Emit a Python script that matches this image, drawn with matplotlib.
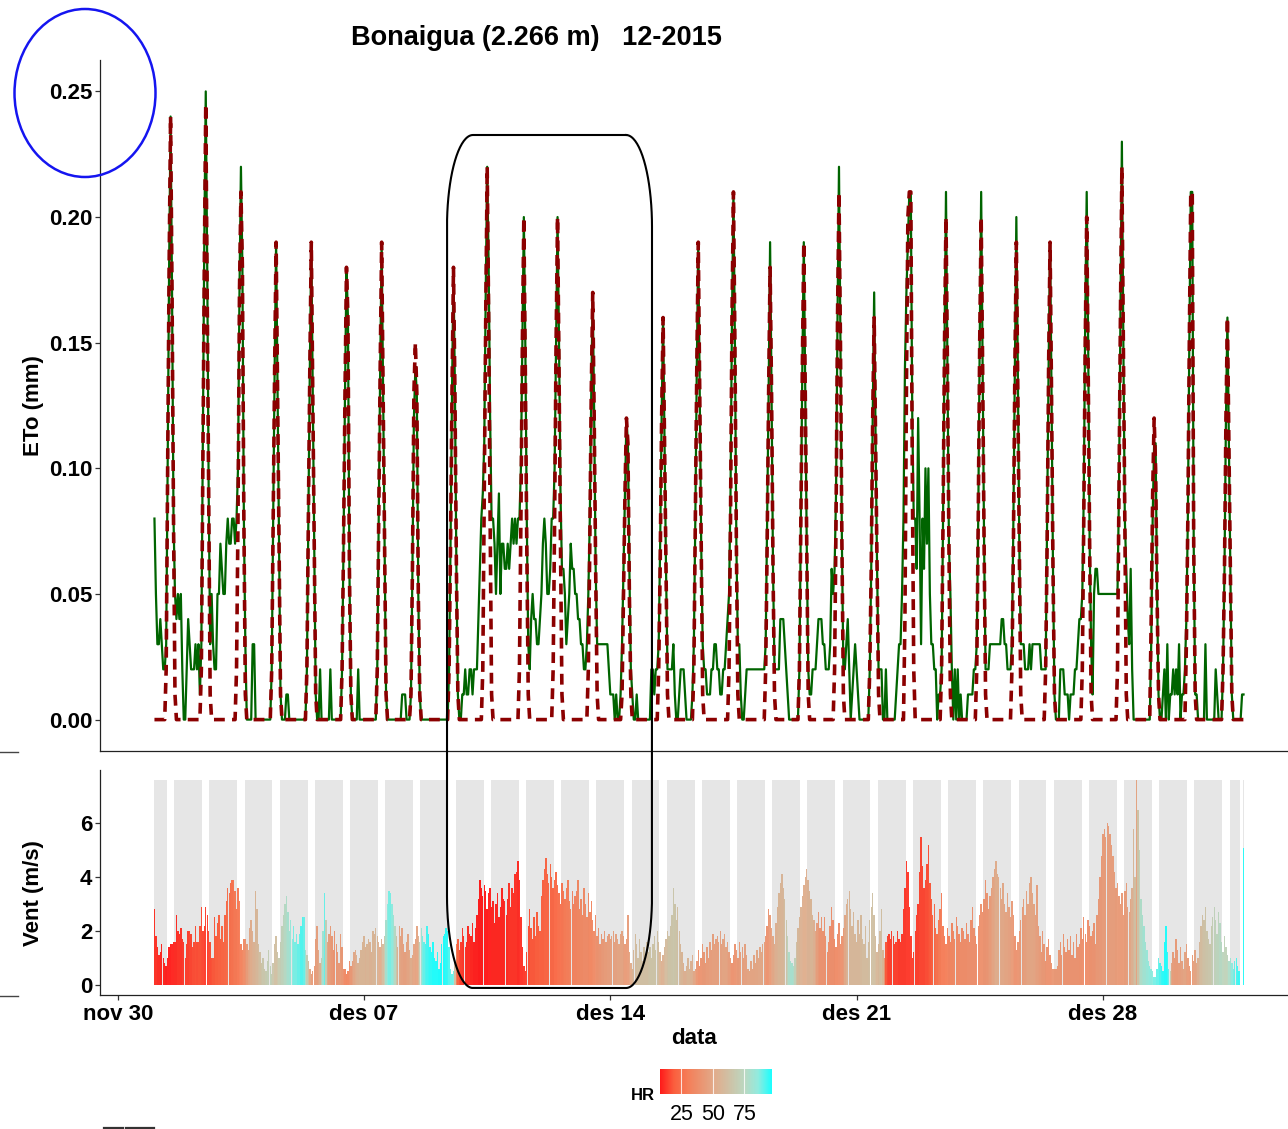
import numpy as np
import pandas as pd
import matplotlib
matplotlib.use('Agg')
import matplotlib.pyplot as plt
from matplotlib.colors import LinearSegmentedColormap, Normalize
from matplotlib.patches import Ellipse

plt.rcParams['font.family'] = ['Liberation Sans', 'DejaVu Sans']

title = 'Bonaigua (2.266 m)   12-2015'
tick_dates = ['2015-11-30', '2015-12-07', '2015-12-14', '2015-12-21', '2015-12-28']
tick_labels = ['nov 30', 'des 07', 'des 14', 'des 21', 'des 28']
hr_ticks = [25, 50, 75]

# one row per day of december, hourly values 01:00 ... 24:00
eto_green = [
    [.08, .05, .03, .03, .04, .03, .02, .02, .03, .10, .18, .24, .17, .08, .05, .04, .05, .04, .05, .02, 0, 0, .02, .04],
    [.03, .02, .02, .02, .03, .02, .03, .01, .03, .11, .19, .25, .18, .09, .03, .05, .03, .02, .02, .05, .05, .07, .06, .05],
    [.05, .07, .08, .07, .07, .08, .08, .07, .08, .10, .17, .22, .18, .08, .03, 0, 0, 0, 0, .03, .03, 0, 0, 0],
    [0, 0, 0, 0, 0, 0, 0, 0, .02, .08, .14, .19, .13, .07, .01, 0, 0, 0, .01, .01, 0, 0, 0, 0],
    [0, 0, 0, 0, 0, 0, 0, 0, .02, .08, .14, .19, .13, .07, .01, 0, 0, .02, 0, 0, 0, 0, 0, 0],
    [.02, 0, 0, 0, 0, 0, 0, 0, .02, .07, .13, .18, .16, .06, .01, 0, 0, 0, 0, .02, 0, 0, 0, 0],
    [0, 0, 0, 0, 0, 0, 0, 0, .02, .08, .14, .19, .13, .07, .01, 0, 0, 0, 0, 0, 0, 0, 0, 0],
    [0, .01, .01, .01, 0, 0, 0, .01, .06, .12, .14, .13, .05, .01, 0, 0, 0, 0, 0, 0, 0, 0, 0, 0],
    [0, 0, 0, 0, 0, 0, 0, 0, 0, .02, .07, .13, .18, .13, .06, .01, 0, 0, .01, .01, .02, .01, .01, .02],
    [.02, .01, .02, .02, .02, .04, .06, .08, .09, .11, .17, .22, .18, .12, .08, .08, .07, .05, .07, .09, .05, .07, .07, .06],
    [.06, .07, .06, .07, .08, .07, .08, .07, .08, .08, .10, .15, .20, .15, .08, .03, .02, .04, .05, .04, .04, .03, .03, .04],
    [.05, .07, .08, .07, .05, .05, .06, .08, .08, .10, .15, .20, .15, .09, .06, .06, .05, .03, .04, .05, .07, .06, .06, .05],
    [.05, .04, .04, .03, .03, .02, .02, .03, .05, .08, .13, .17, .12, .06, .03, .03, .03, .03, .03, .03, .03, .03, .02, .01],
    [.01, .01, 0, .01, 0, 0, .01, .03, .06, .09, .12, .11, .06, .02, .01, 0, 0, .01, 0, 0, 0, 0, 0, 0],
    [0, 0, 0, .02, .02, .01, .02, .02, .03, .07, .12, .16, .11, .06, .02, .02, .02, .02, .03, .01, 0, 0, .01, .02],
    [.02, .02, .01, 0, 0, 0, 0, .01, .03, .08, .14, .19, .13, .07, .03, .02, .02, .01, .01, .01, .02, .02, .03, .03],
    [.02, .02, .01, .01, .02, .02, .03, .04, .05, .09, .16, .21, .15, .07, .03, .03, .01, 0, 0, .01, .02, .02, .02, .02],
    [.02, .02, .02, .02, .02, .02, .02, .02, .02, .03, .08, .13, .19, .13, .06, .02, .02, .02, .02, .04, .04, .04, .03, .02],
    [.01, 0, 0, 0, 0, 0, 0, 0, .02, .08, .14, .19, .13, .07, .02, .01, .01, .02, .02, .02, .03, .04, .04, .04],
    [.03, .03, .02, .02, .02, .03, .06, .05, .06, .09, .16, .22, .15, .07, .02, .02, .03, .04, .02, 0, .01, .02, .03, .02],
    [.01, 0, 0, 0, 0, 0, 0, 0, .02, .06, .12, .17, .11, .06, .02, .02, .02, 0, 0, .02, 0, 0, 0, 0],
    [0, 0, .01, .02, .03, .03, .05, .08, .14, .17, .19, .21, .21, .12, .08, .08, .06, .12, .08, .03, .08, .06, .10, .07],
    [.10, .05, .03, .03, .02, .02, 0, .01, .01, .02, .08, .15, .21, .14, .07, .05, .02, 0, .02, 0, .02, 0, .01, 0],
    [0, 0, 0, .01, .01, .01, .01, .02, .02, .03, .08, .15, .21, .14, .07, .02, .02, .02, .03, .03, .03, .03, .03, .03],
    [.03, .03, .04, .04, .03, .03, .02, .02, .02, .03, .08, .14, .20, .14, .07, .03, .03, .03, .02, .02, .02, .03, .02, .03],
    [.03, .03, .03, .03, .03, .02, .02, .02, .02, .08, .14, .19, .13, .06, .01, 0, 0, 0, .02, .02, .02, .01, .01, .01],
    [0, .01, .01, .01, .02, .02, .03, .04, .04, .05, .09, .16, .21, .15, .07, .03, .01, .05, .06, .06, .05, .05, .05, .05],
    [.05, .05, .05, .05, .05, .05, .05, .05, .05, .05, .09, .16, .23, .15, .08, .06, .04, .03, .06, .02, 0, 0, 0, 0],
    [0, 0, 0, 0, 0, 0, 0, 0, .03, .08, .11, .11, .05, .01, 0, 0, .01, .02, 0, .03, 0, .01, .01, .02],
    [.01, .02, .01, .03, 0, .01, .01, .02, .04, .08, .15, .21, .21, .07, .01, .01, 0, 0, 0, 0, 0, .03, 0, 0],
    [0, 0, 0, 0, .02, .01, 0, 0, 0, .02, .06, .12, .16, .11, .06, .01, 0, 0, 0, 0, 0, 0, .01, .01],
]

eto_red = [
    [0, 0, 0, 0, 0, 0, 0, 0, .02, .10, .18, .24, .17, .08, .01, 0, 0, 0, 0, 0, 0, 0, 0, 0],
    [0, 0, 0, 0, 0, 0, 0, 0, .02, .10, .18, .245, .17, .09, .01, 0, 0, 0, 0, 0, 0, 0, 0, 0],
    [0, 0, 0, 0, 0, 0, 0, 0, .02, .08, .17, .21, .18, .08, .01, 0, 0, 0, 0, 0, 0, 0, 0, 0],
    [0, 0, 0, 0, 0, 0, 0, 0, .02, .08, .14, .19, .13, .07, .01, 0, 0, 0, 0, 0, 0, 0, 0, 0],
    [0, 0, 0, 0, 0, 0, 0, 0, .02, .08, .14, .19, .13, .07, .01, 0, 0, 0, 0, 0, 0, 0, 0, 0],
    [0, 0, 0, 0, 0, 0, 0, 0, .02, .07, .13, .18, .16, .06, .01, 0, 0, 0, 0, 0, 0, 0, 0, 0],
    [0, 0, 0, 0, 0, 0, 0, 0, .02, .08, .14, .19, .13, .07, .01, 0, 0, 0, 0, 0, 0, 0, 0, 0],
    [0, 0, 0, 0, 0, 0, 0, .01, .06, .13, .15, .13, .05, .01, 0, 0, 0, 0, 0, 0, 0, 0, 0, 0],
    [0, 0, 0, 0, 0, 0, 0, 0, 0, .02, .07, .13, .18, .13, .06, .01, 0, 0, 0, 0, 0, 0, 0, 0],
    [0, 0, 0, 0, 0, 0, 0, 0, .02, .09, .16, .22, .16, .08, .01, 0, 0, 0, 0, 0, 0, 0, 0, 0],
    [0, 0, 0, 0, 0, 0, 0, 0, 0, .02, .08, .15, .20, .14, .07, .01, 0, 0, 0, 0, 0, 0, 0, 0],
    [0, 0, 0, 0, 0, 0, 0, 0, .02, .08, .15, .20, .14, .07, .01, 0, 0, 0, 0, 0, 0, 0, 0, 0],
    [0, 0, 0, 0, 0, 0, 0, 0, .02, .07, .13, .17, .12, .06, .01, 0, 0, 0, 0, 0, 0, 0, 0, 0],
    [0, 0, 0, 0, 0, 0, 0, .01, .05, .09, .12, .11, .05, .01, 0, 0, 0, 0, 0, 0, 0, 0, 0, 0],
    [0, 0, 0, 0, 0, 0, 0, 0, .02, .06, .12, .16, .11, .06, .01, 0, 0, 0, 0, 0, 0, 0, 0, 0],
    [0, 0, 0, 0, 0, 0, 0, 0, .02, .08, .14, .19, .13, .07, .01, 0, 0, 0, 0, 0, 0, 0, 0, 0],
    [0, 0, 0, 0, 0, 0, 0, 0, .02, .08, .16, .21, .15, .07, .01, 0, 0, 0, 0, 0, 0, 0, 0, 0],
    [0, 0, 0, 0, 0, 0, 0, 0, 0, .02, .07, .13, .18, .13, .06, .01, 0, 0, 0, 0, 0, 0, 0, 0],
    [0, 0, 0, 0, 0, 0, 0, 0, .02, .08, .14, .19, .13, .07, .01, 0, 0, 0, 0, 0, 0, 0, 0, 0],
    [0, 0, 0, 0, 0, 0, 0, 0, .02, .08, .16, .21, .15, .07, .01, 0, 0, 0, 0, 0, 0, 0, 0, 0],
    [0, 0, 0, 0, 0, 0, 0, 0, .02, .06, .12, .16, .11, .06, .01, 0, 0, 0, 0, 0, 0, 0, 0, 0],
    [0, 0, 0, 0, 0, 0, 0, 0, .04, .13, .20, .21, .21, .10, .02, 0, 0, 0, 0, 0, 0, 0, 0, 0],
    [0, 0, 0, 0, 0, 0, 0, 0, 0, .02, .08, .15, .20, .14, .07, .01, 0, 0, 0, 0, 0, 0, 0, 0],
    [0, 0, 0, 0, 0, 0, 0, 0, 0, .02, .08, .15, .20, .14, .07, .01, 0, 0, 0, 0, 0, 0, 0, 0],
    [0, 0, 0, 0, 0, 0, 0, 0, 0, .02, .07, .14, .19, .13, .07, .01, 0, 0, 0, 0, 0, 0, 0, 0],
    [0, 0, 0, 0, 0, 0, 0, 0, .02, .07, .14, .19, .13, .06, .01, 0, 0, 0, 0, 0, 0, 0, 0, 0],
    [0, 0, 0, 0, 0, 0, 0, 0, 0, .02, .08, .15, .20, .14, .07, .01, 0, 0, 0, 0, 0, 0, 0, 0],
    [0, 0, 0, 0, 0, 0, 0, 0, 0, .02, .09, .16, .22, .15, .08, .01, 0, 0, 0, 0, 0, 0, 0, 0],
    [0, 0, 0, 0, 0, 0, 0, 0, .04, .09, .12, .10, .05, .01, 0, 0, 0, 0, 0, 0, 0, 0, 0, 0],
    [0, 0, 0, 0, 0, 0, 0, 0, .03, .08, .15, .21, .21, .07, .01, 0, 0, 0, 0, 0, 0, 0, 0, 0],
    [0, 0, 0, 0, 0, 0, 0, 0, 0, .02, .06, .12, .16, .11, .06, .01, 0, 0, 0, 0, 0, 0, 0, 0],
]

vent = [
    [2.8, 1.8, 1.4, 1.1, 1.2, 1.5, 1.0, 0.8, 0.7, 1.0, 1.4, 1.5, 1.5, 1.6, 1.6, 2.6, 2.0, 1.9, 2.1, 1.7, 1.6, 1.0, 1.5, 2.0],
    [2.0, 1.9, 1.4, 1.6, 2.2, 1.6, 1.6, 2.2, 2.9, 2.0, 2.2, 2.9, 2.6, 2.0, 1.6, 1.0, 1.0, 2.5, 1.8, 2.3, 2.6, 1.7, 2.2, 1.6],
    [2.6, 3.1, 3.6, 3.4, 3.8, 3.9, 3.9, 3.5, 2.8, 3.6, 3.1, 1.5, 1.3, 1.7, 1.7, 1.5, 1.3, 2.1, 2.4, 2.0, 1.6, 3.5, 2.8, 1.5],
    [1.2, 0.8, 1.0, 0.6, 0.5, 0.9, 1.3, 0.7, 0.4, 0.8, 1.5, 1.8, 1.2, 1.0, 1.6, 2.2, 2.6, 3.0, 3.3, 2.7, 2.0, 2.4, 1.7, 2.2],
    [1.6, 1.9, 1.5, 1.9, 2.2, 2.5, 2.5, 1.3, 1.1, 0.9, 0.6, 0.4, 0.5, 0.7, 1.7, 2.2, 1.3, 0.8, 1.0, 2.0, 3.4, 2.4, 1.6, 1.9],
    [2.2, 1.8, 1.3, 2.0, 1.5, 1.2, 0.8, 1.9, 1.4, 0.6, 0.6, 0.4, 0.5, 0.9, 0.7, 0.9, 1.2, 1.3, 1.1, 0.8, 1.0, 1.3, 1.6, 1.8],
    [1.4, 1.5, 1.7, 1.6, 1.2, 2.0, 1.9, 2.1, 1.8, 1.6, 1.4, 1.7, 1.5, 1.8, 2.4, 3.0, 3.5, 3.4, 3.0, 2.6, 2.2, 1.8, 1.4, 2.2],
    [1.8, 2.1, 1.5, 1.2, 1.6, 1.9, 1.3, 1.0, 1.1, 1.5, 1.7, 2.2, 1.8, 1.6, 2.1, 1.8, 1.6, 1.5, 2.2, 1.9, 1.4, 1.2, 1.6, 1.0],
    [0.9, 1.2, 0.6, 0.8, 1.5, 1.8, 1.9, 2.1, 2.0, 1.4, 0.6, 0.4, 0.5, 0.8, 1.5, 1.7, 1.3, 1.6, 2.1, 1.8, 1.4, 1.6, 2.2, 1.9],
    [1.8, 2.3, 1.6, 2.1, 2.6, 3.2, 3.9, 3.6, 3.3, 3.7, 3.5, 2.8, 3.4, 3.6, 2.9, 3.1, 2.3, 3.0, 3.4, 2.5, 2.9, 3.6, 3.2, 3.1],
    [2.6, 3.2, 3.8, 2.9, 3.6, 3.4, 4.1, 4.2, 4.6, 3.9, 2.5, 1.4, 0.7, 0.5, 1.2, 2.2, 2.8, 2.1, 1.7, 2.5, 1.8, 2.7, 2.2, 2.0],
    [3.3, 3.9, 4.3, 4.7, 4.1, 3.8, 4.5, 4.0, 3.6, 3.9, 4.2, 3.7, 3.4, 3.0, 3.8, 3.5, 3.2, 3.6, 3.9, 3.1, 2.8, 3.5, 3.0, 3.3],
    [3.5, 3.9, 2.8, 3.2, 2.6, 3.6, 3.0, 2.5, 3.4, 2.7, 3.1, 2.4, 2.0, 2.6, 1.8, 2.1, 1.5, 1.9, 1.7, 2.0, 1.6, 1.8, 1.9, 1.7],
    [1.8, 2.0, 1.6, 1.9, 1.7, 1.5, 1.9, 2.0, 1.8, 1.5, 1.7, 2.6, 1.2, 0.8, 0.6, 1.3, 1.9, 1.5, 1.0, 1.7, 1.2, 0.9, 1.4, 1.1],
    [1.6, 1.2, 1.4, 1.0, 1.5, 1.8, 1.3, 2.0, 1.6, 1.2, 0.9, 1.1, 1.4, 1.7, 2.0, 1.8, 2.2, 2.6, 3.6, 3.0, 2.4, 2.9, 2.0, 1.5],
    [1.2, 0.8, 0.5, 0.7, 1.0, 0.6, 0.9, 1.1, 0.5, 0.6, 0.9, 1.3, 0.7, 1.0, 1.5, 1.2, 0.8, 1.4, 1.0, 1.6, 1.3, 1.9, 1.5, 1.7],
    [1.8, 1.6, 2.0, 1.5, 1.7, 1.9, 1.4, 1.6, 1.2, 1.0, 0.8, 1.1, 1.5, 1.3, 1.0, 1.6, 1.2, 1.4, 1.0, 1.5, 1.1, 0.6, 0.5, 0.9],
    [0.6, 1.1, 0.8, 1.3, 1.0, 1.4, 1.2, 1.5, 1.6, 1.8, 2.2, 2.8, 2.6, 2.1, 1.8, 1.5, 2.3, 2.9, 3.4, 3.8, 4.1, 3.6, 3.2, 2.4],
    [1.8, 1.2, 0.9, 0.8, 0.7, 1.0, 1.6, 2.1, 2.5, 2.9, 3.3, 3.7, 4.0, 4.3, 3.9, 3.5, 3.2, 2.6, 2.4, 2.0, 2.3, 2.7, 2.1, 2.5],
    [2.0, 2.5, 1.8, 1.2, 1.6, 2.2, 2.9, 2.4, 1.7, 1.4, 1.9, 2.3, 1.5, 1.8, 2.1, 2.6, 3.0, 3.2, 3.5, 2.8, 2.2, 2.7, 1.9, 1.6],
    [2.4, 1.9, 2.6, 1.7, 1.5, 2.2, 1.0, 1.6, 2.4, 2.9, 3.4, 2.6, 1.8, 1.2, 1.5, 2.0, 2.8, 1.3, 1.0, 1.6, 1.8, 1.9, 1.7, 2.0],
    [1.8, 1.5, 1.6, 2.0, 1.7, 1.6, 1.9, 2.8, 3.6, 4.6, 4.2, 2.9, 1.8, 1.0, 1.2, 2.0, 2.6, 3.0, 4.2, 5.5, 4.4, 3.6, 3.9, 4.5],
    [5.2, 3.8, 3.2, 2.6, 3.0, 2.1, 1.9, 2.4, 2.8, 3.4, 2.2, 1.8, 1.5, 2.1, 1.8, 1.6, 2.3, 2.0, 1.7, 2.5, 2.2, 1.9, 1.6, 2.1],
    [2.0, 1.7, 2.3, 1.9, 1.6, 2.4, 2.9, 2.1, 1.8, 1.5, 2.2, 2.6, 3.0, 2.7, 3.2, 3.9, 3.4, 2.8, 3.3, 3.6, 4.0, 4.3, 4.6, 4.1],
    [4.0, 3.6, 3.2, 3.8, 3.0, 2.7, 3.4, 2.9, 2.5, 3.1, 2.6, 1.8, 1.3, 1.6, 2.0, 2.4, 2.9, 3.2, 2.6, 3.5, 3.0, 3.8, 4.0, 3.4],
    [3.0, 2.6, 3.7, 2.2, 1.8, 1.2, 2.0, 1.5, 0.9, 1.4, 1.7, 1.1, 0.8, 0.6, 0.6, 0.6, 0.7, 1.3, 1.6, 1.1, 1.9, 1.4, 1.2, 1.7],
    [1.3, 1.8, 1.1, 1.6, 1.0, 1.9, 1.4, 1.5, 2.1, 1.7, 2.5, 1.9, 1.6, 2.4, 2.2, 1.8, 2.0, 2.3, 1.5, 2.6, 3.2, 4.0, 4.8, 5.6],
    [5.8, 5.5, 6.0, 5.9, 5.6, 5.2, 4.8, 4.2, 3.6, 3.8, 3.3, 3.0, 3.4, 2.6, 3.5, 3.8, 2.9, 2.7, 3.2, 3.6, 5.8, 4.0, 7.6, 6.5],
    [5.0, 3.2, 2.6, 2.2, 1.6, 1.3, 0.9, 0.7, 0.6, 0.5, 0.3, 0.3, 0.6, 1.0, 0.8, 0.7, 0.5, 1.6, 2.2, 1.2, 0.6, 0.5, 0.8, 1.2],
    [1.0, 1.7, 1.3, 0.8, 1.4, 0.9, 0.6, 1.2, 1.5, 1.0, 0.7, 0.5, 1.1, 0.9, 1.3, 0.8, 1.0, 1.6, 2.2, 2.6, 2.4, 2.9, 2.0, 1.7],
    [1.5, 2.2, 2.5, 2.9, 2.4, 1.9, 2.7, 2.3, 1.6, 1.2, 1.8, 1.4, 1.1, 0.9, 1.0, 0.8, 0.6, 0.9, 1.0, 0.7, 0.5, np.nan, np.nan, 5.1],
]

hr = [
    [12, 12, 11, 11, 10, 10, 10, 10, 9, 9, 9, 9, 10, 10, 11, 11, 12, 12, 12, 13, 13, 14, 14, 14],
    [15, 15, 16, 16, 17, 16, 17, 17, 16, 15, 14, 14, 14, 15, 16, 17, 18, 18, 19, 19, 20, 20, 21, 21],
    [22, 23, 24, 25, 25, 26, 27, 28, 28, 28, 30, 32, 34, 36, 40, 44, 48, 50, 52, 54, 55, 56, 58, 60],
    [62, 64, 66, 66, 68, 70, 70, 72, 70, 66, 62, 62, 65, 68, 70, 72, 74, 76, 78, 80, 82, 84, 86, 88],
    [88, 88, 90, 90, 92, 92, 90, 80, 70, 60, 50, 45, 44, 44, 45, 46, 50, 55, 70, 82, 90, 70, 50, 45],
    [44, 42, 40, 40, 41, 42, 43, 44, 42, 38, 35, 34, 35, 38, 42, 46, 50, 52, 54, 55, 56, 56, 56, 56],
    [55, 56, 56, 55, 55, 56, 57, 58, 56, 54, 52, 55, 60, 68, 80, 86, 88, 88, 86, 82, 76, 65, 55, 50],
    [48, 47, 46, 46, 47, 48, 50, 52, 50, 48, 47, 48, 55, 70, 82, 88, 90, 92, 93, 94, 95, 95, 96, 96],
    [96, 96, 97, 97, 97, 96, 96, 95, 94, 92, 90, 90, 88, 60, 30, 20, 16, 14, 13, 12, 12, 11, 11, 11],
    [10, 10, 9, 9, 9, 8, 8, 8, 8, 8, 8, 8, 9, 9, 10, 10, 10, 10, 10, 10, 10, 10, 10, 11],
    [11, 11, 12, 12, 12, 12, 12, 12, 11, 11, 12, 12, 13, 14, 15, 16, 17, 18, 18, 18, 19, 19, 19, 20],
    [20, 20, 21, 21, 21, 22, 22, 22, 22, 23, 23, 24, 25, 26, 27, 28, 29, 30, 30, 31, 31, 32, 32, 33],
    [33, 34, 34, 35, 35, 36, 36, 36, 35, 34, 34, 35, 36, 38, 39, 40, 41, 42, 43, 44, 44, 45, 45, 46],
    [46, 46, 47, 47, 48, 48, 48, 48, 46, 44, 44, 45, 48, 52, 56, 58, 60, 61, 62, 62, 62, 62, 62, 62],
    [62, 63, 64, 64, 64, 64, 64, 63, 60, 56, 54, 55, 58, 60, 62, 64, 64, 65, 66, 65, 64, 62, 60, 58],
    [56, 54, 54, 55, 56, 56, 55, 54, 50, 46, 42, 40, 40, 41, 42, 42, 43, 44, 44, 45, 45, 46, 46, 46],
    [46, 46, 47, 47, 48, 48, 48, 47, 45, 42, 40, 40, 41, 42, 43, 44, 45, 46, 46, 47, 47, 48, 48, 48],
    [48, 48, 49, 49, 50, 50, 50, 49, 46, 42, 40, 41, 44, 47, 50, 52, 54, 55, 56, 56, 57, 58, 60, 66],
    [72, 78, 80, 80, 78, 72, 62, 58, 56, 55, 54, 53, 53, 54, 55, 55, 56, 56, 54, 50, 45, 42, 40, 40],
    [40, 39, 39, 38, 38, 38, 38, 38, 37, 37, 37, 38, 39, 40, 44, 50, 54, 56, 57, 58, 58, 58, 58, 58],
    [58, 58, 59, 60, 60, 60, 60, 61, 62, 62, 63, 62, 60, 58, 58, 60, 62, 56, 40, 18, 15, 14, 14, 14],
    [14, 14, 14, 14, 13, 13, 13, 13, 13, 13, 13, 13, 14, 14, 14, 14, 14, 14, 15, 15, 15, 15, 16, 16],
    [17, 18, 19, 20, 22, 24, 26, 28, 29, 30, 30, 30, 31, 32, 33, 34, 34, 35, 35, 36, 36, 36, 37, 37],
    [37, 37, 37, 38, 38, 38, 38, 38, 38, 38, 38, 38, 39, 39, 40, 40, 41, 42, 44, 46, 48, 50, 52, 52],
    [52, 51, 50, 50, 49, 48, 48, 47, 46, 44, 42, 40, 40, 41, 42, 43, 44, 45, 46, 47, 48, 48, 49, 49],
    [48, 47, 46, 45, 44, 43, 42, 42, 41, 40, 40, 40, 41, 42, 42, 42, 42, 42, 41, 41, 41, 40, 40, 40],
    [40, 40, 40, 40, 40, 40, 40, 39, 39, 38, 38, 38, 38, 38, 39, 39, 40, 40, 41, 42, 42, 43, 43, 44],
    [44, 44, 45, 45, 45, 45, 45, 45, 44, 44, 43, 43, 43, 44, 44, 45, 46, 48, 50, 54, 58, 62, 48, 64],
    [72, 78, 80, 82, 82, 84, 85, 86, 86, 86, 88, 88, 90, 90, 92, 94, 95, 96, 96, 94, 90, 70, 50, 45],
    [44, 44, 44, 45, 46, 47, 48, 48, 46, 44, 43, 43, 44, 46, 48, 50, 54, 58, 60, 62, 63, 64, 65, 66],
    [66, 68, 70, 72, 72, 74, 74, 76, 76, 74, 72, 72, 74, 78, 82, 86, 88, 90, 92, 93, 94, np.nan, np.nan, 95],
]

# hours of the day (01:00 = 0) with daylight: no grey column there
daylight_hours = [9, 10, 11, 12, 13]

eto_g = np.array(eto_green, dtype=float).ravel()
eto_r = np.array(eto_red, dtype=float).ravel()
wind = np.array(vent, dtype=float).ravel()
humid = np.array(hr, dtype=float).ravel()
times = pd.date_range('2015-12-01 01:00', periods=len(eto_g), freq='h')
hour_idx = np.tile(np.arange(24), len(eto_green))
night = ~np.isin(hour_idx, daylight_hours) & ~np.isnan(wind)
ok = ~np.isnan(wind)

W, H = 1288, 1129
fig = plt.figure(figsize=(W / 100, H / 100), dpi=100)

def px_axes(x0, y0, x1, y1):
    return fig.add_axes([x0 / W, 1 - y1 / H, (x1 - x0) / W, (y1 - y0) / H])

# ggplot like gradient red -> cyan (Lab interpolation)
cmap = LinearSegmentedColormap.from_list('hr', [
    (0, '#FF0000'), (0.125, '#FB4D28'), (0.25, '#F47046'), (0.5, '#DDA581'),
    (0.75, '#B5D3B9'), (0.875, '#87E9DB'), (1, '#00FFFF')])
norm = Normalize(np.nanmin(humid), np.nanmax(humid))

span = times[-1] - times[0]
xlim = (times[0] - 0.05 * span, times[-1] + 0.05 * span)

# top panel: ETo
ax1 = px_axes(100, 60, 1298, 751)
ax1.plot(times, eto_g, color='#006400', lw=1.6, zorder=2)
ax1.plot(times, eto_r, color='#8B0000', lw=2.6, dashes=(3, 2), zorder=3)
ax1.set_xlim(xlim)
ax1.set_ylim(-0.0125, 0.2625)
ax1.set_yticks([0, 0.05, 0.10, 0.15, 0.20, 0.25])
ax1.set_yticklabels(['0.00', '0.05', '0.10', '0.15', '0.20', '0.25'])
ax1.tick_params(axis='x', bottom=False, labelbottom=False)

# bottom panel: wind coloured by HR
ax2 = px_axes(100, 770, 1298, 995)
ax2.bar(times[night], np.nanmax(wind), width=pd.Timedelta(hours=1.0),
        color='#E6E6E6', lw=0, zorder=1)
ax2.bar(times[ok], wind[ok], width=pd.Timedelta(hours=0.96),
        color=cmap(norm(humid[ok])), alpha=0.88, lw=0, zorder=2)
ax2.set_xlim(xlim)
ax2.set_ylim(-0.38, 7.98)
ax2.set_yticks([0, 2, 4, 6])
ax2.set_xticks(pd.to_datetime(tick_dates))
ax2.set_xticklabels(tick_labels)

for ax in (ax1, ax2):
    for s in ('top', 'right'):
        ax.spines[s].set_visible(False)
    for s in ('left', 'bottom'):
        ax.spines[s].set_color('#222222')
        ax.spines[s].set_linewidth(0.9)
    ax.tick_params(length=3.5, width=0.9, color='#333333', pad=2, labelsize=16)
    for lab in ax.get_xticklabels() + ax.get_yticklabels():
        lab.set_fontweight('bold')
        lab.set_color('black')
ax2.tick_params(axis='x', pad=3)

def ftext(x, y, s, **kw):
    fig.text(x / W, 1 - y / H, s, ha='center', va='center', **kw)

ftext(536, 38, title, fontsize=19.5, fontweight='bold')
ftext(33, 406, 'ETo (mm)', fontsize=16, fontweight='bold', rotation=90)
ftext(33, 893, 'Vent (m/s)', fontsize=16, fontweight='bold', rotation=90)
ftext(694, 1038, 'data', fontsize=16, fontweight='bold')

# HR legend
cax = px_axes(660, 1069, 772, 1094)
grad = np.linspace(norm.vmin, norm.vmax, 256)
cax.imshow(grad[None, :], aspect='auto', cmap=cmap, norm=norm, alpha=0.9,
           extent=(norm.vmin, norm.vmax, 0, 1))
for t in hr_ticks:
    cax.axvline(t, color='white', lw=0.8, alpha=0.8)
cax.set_xlim(norm.vmin, norm.vmax)
cax.set_yticks([])
cax.set_xticks(hr_ticks)
cax.set_xticklabels([str(t) for t in hr_ticks])
cax.tick_params(axis='x', length=0, pad=7, labelsize=15.5)
for s in cax.spines.values():
    s.set_visible(False)
ftext(643, 1096, 'HR', fontsize=12, fontweight='bold')

# overlay with the hand drawn marks
ov = fig.add_axes([0, 0, 1, 1], zorder=10)
ov.set_xlim(0, W)
ov.set_ylim(H, 0)
ov.axis('off')
ov.patch.set_alpha(0)
ov.add_patch(Ellipse((85, 93), 141, 168, fill=False, ec='#1515F0', lw=1.8))

def rounded_rect(x0, y0, x1, y1, rx, ry, n=40):
    t = np.linspace(0, np.pi / 2, n)
    xs, ys = [], []
    for cx, cy, a0 in ((x1 - rx, y0 + ry, -np.pi / 2), (x1 - rx, y1 - ry, 0),
                       (x0 + rx, y1 - ry, np.pi / 2), (x0 + rx, y0 + ry, np.pi)):
        xs.extend(cx + rx * np.cos(a0 + t))
        ys.extend(cy + ry * np.sin(a0 + t))
    xs.append(xs[0])
    ys.append(ys[0])
    return xs, ys

rx_, ry_ = rounded_rect(447, 135, 652, 988, 26, 92)
ov.plot(rx_, ry_, color='black', lw=1.5)
ov.plot([0, 18], [752, 752], color='#444444', lw=1.0)
ov.plot([0, 18], [996, 996], color='#444444', lw=1.0)
ov.plot([104, 123], [1127.5, 1127.5], color='#333333', lw=1.6)
ov.plot([126, 154], [1127.5, 1127.5], color='#333333', lw=1.6)

fig.savefig('out.png', dpi=100)
